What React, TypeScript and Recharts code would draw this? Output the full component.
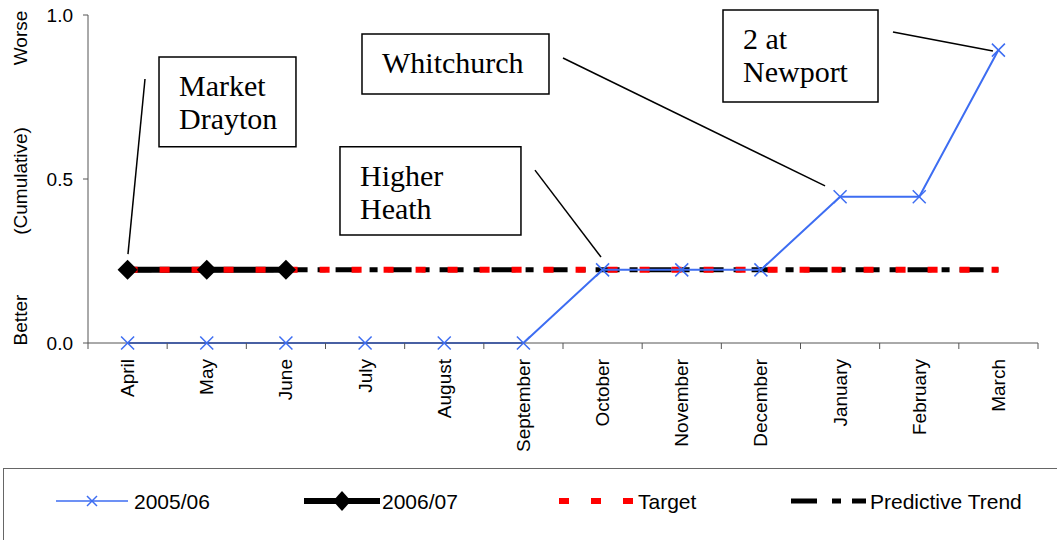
import React from "react";
import {
  ComposedChart,
  Line,
  XAxis,
  YAxis,
  Legend,
  ReferenceArea,
  ReferenceLine,
} from "recharts";

const months = [
  "April", "May", "June", "July", "August", "September",
  "October", "November", "December", "January", "February", "March",
];
const rate0506 = [0, 0, 0, 0, 0, 0, 0.223, 0.223, 0.223, 0.446, 0.446, 0.893];
const rate0607 = [0.223, 0.223, 0.223];
const targetRate = [0.223, 0.223, 0.223, 0.223, 0.223, 0.223, 0.223, 0.223, 0.223, 0.223, 0.223, 0.223];
const trendRate = [0.223, 0.223, 0.223, 0.223, 0.223, 0.223, 0.223, 0.223, 0.223, 0.223, 0.223, 0.223];
const yTicks = [0, 0.5, 1];

const data = months.map((month, i) => ({
  idx: i,
  month,
  s0506: rate0506[i],
  s0607: i < rate0607.length ? rate0607[i] : null,
  target: targetRate[i],
  trend: trendRate[i],
}));

// call-out boxes, in chart (data) units
const notes = [
  { lines: ["Market", "Drayton"], x1: 0.397, x2: 2.127, y1: 0.598, y2: 0.872, from: [0.22, 0.805], to: [0.005, 0.271] },
  { lines: ["Whitchurch"], x1: 2.961, x2: 5.323, y1: 0.759, y2: 0.942, from: [5.5, 0.869], to: [8.81, 0.479] },
  { lines: ["Higher", "Heath"], x1: 2.683, x2: 4.969, y1: 0.329, y2: 0.598, from: [5.146, 0.527], to: [5.98, 0.262] },
  { lines: ["2 at", "Newport"], x1: 7.521, x2: 9.479, y1: 0.735, y2: 1.015, from: [9.668, 0.948], to: [10.931, 0.89] },
];

const SANS = "Liberation Sans, Arial, sans-serif";
const SERIF = "Liberation Serif, Times New Roman, serif";
const BLUE = "#3d6df2";
const STEP = 950 / 12;

const MonthTick = (props: any) => {
  const { x, y, payload } = props;
  const axisY = y - 16;
  const half = STEP / 2;
  return (
    <g>
      <line x1={x - half} x2={x - half} y1={axisY} y2={axisY + 6} stroke="#555" />
      {payload.value === months.length - 1 && (
        <line x1={x + half} x2={x + half} y1={axisY} y2={axisY + 6} stroke="#555" />
      )}
      <text
        x={x}
        y={y}
        transform={`rotate(-90, ${x}, ${y})`}
        textAnchor="end"
        dominantBaseline="central"
        fontSize={19}
        fontFamily={SANS}
        fill="#000"
      >
        {months[payload.value]}
      </text>
    </g>
  );
};

const CrossDot = (props: any) => {
  const { cx, cy } = props;
  if (cx == null || cy == null) return null;
  const r = 6.5;
  return (
    <g stroke={BLUE} strokeWidth={1.5}>
      <line x1={cx - r} y1={cy - r} x2={cx + r} y2={cy + r} />
      <line x1={cx - r} y1={cy + r} x2={cx + r} y2={cy - r} />
    </g>
  );
};

const DiamondDot = (props: any) => {
  const { cx, cy } = props;
  if (cx == null || cy == null) return null;
  const r = 10;
  return (
    <polygon
      points={`${cx},${cy - r} ${cx + r},${cy} ${cx},${cy + r} ${cx - r},${cy}`}
      fill="#000"
    />
  );
};

const YLabel = (props: any) => {
  const vb = props.viewBox;
  const x = vb.x + 21;
  const parts: [string, number][] = [
    ["Worse", 0.07],
    ["(Cumulative)", 0.506],
    ["Better", 0.93],
  ];
  return (
    <g>
      {parts.map(([t, f]) => {
        const y = vb.y + vb.height * f;
        return (
          <text
            key={t}
            x={x}
            y={y}
            transform={`rotate(-90, ${x}, ${y})`}
            textAnchor="middle"
            dominantBaseline="central"
            fontSize={19}
            fontFamily={SANS}
            fill="#000"
          >
            {t}
          </text>
        );
      })}
    </g>
  );
};

const boxText = (lines: string[]) => (props: any) => {
  const vb = props.viewBox;
  return (
    <text fontSize={30} fontFamily={SERIF} fill="#000">
      {lines.map((l, i) => (
        <tspan key={l} x={vb.x + 20} y={vb.y + 39 + i * 33}>
          {l}
        </tspan>
      ))}
    </text>
  );
};

const LegendBox = () => (
  <div
    style={{
      height: 72,
      boxSizing: "border-box",
      borderTop: "1.5px solid #666",
      borderLeft: "1.5px solid #666",
      background: "#fff",
    }}
  >
    <svg width={1054} height={70} style={{ display: "block" }}>
      <g fontSize={21} fontFamily={SANS} fill="#000">
        <line x1={52} x2={124} y1={32} y2={32} stroke={BLUE} strokeWidth={1.5} />
        <g stroke={BLUE} strokeWidth={1.5}>
          <line x1={83} y1={27} x2={93} y2={37} />
          <line x1={83} y1={37} x2={93} y2={27} />
        </g>
        <text x={130} y={32} dominantBaseline="central">2005/06</text>

        <line x1={300} x2={376} y1={32} y2={32} stroke="#000" strokeWidth={6} />
        <polygon points="338,22 347,32 338,42 329,32" fill="#000" />
        <text x={378} y={32} dominantBaseline="central">2006/07</text>

        <line x1={555} x2={630} y1={32} y2={32} stroke="#f00" strokeWidth={6} strokeDasharray="10 22" />
        <text x={634} y={32} dominantBaseline="central">Target</text>

        <line x1={787} x2={862} y1={32} y2={32} stroke="#000" strokeWidth={5} strokeDasharray="26 15 9 11 14" />
        <text x={866} y={32} dominantBaseline="central">Predictive Trend</text>
      </g>
    </svg>
  </div>
);

export default function App() {
  return (
    <div
      style={{
        position: "absolute",
        left: 0,
        top: 0,
        width: 1057,
        height: 540,
        overflow: "hidden",
        background: "#fff",
      }}
    >
      <ComposedChart
        width={1057}
        height={540}
        data={data}
        margin={{ top: 15, right: 19, bottom: 0, left: 0 }}
      >
        <XAxis
          dataKey="idx"
          type="number"
          domain={[-0.5, 11.5]}
          allowDataOverflow
          ticks={months.map((_, i) => i)}
          interval={0}
          height={125}
          tickLine={false}
          tickSize={0}
          tickMargin={16}
          tick={<MonthTick />}
          stroke="#555"
        />
        <YAxis
          domain={[0, 1]}
          ticks={yTicks}
          width={88}
          tickSize={5}
          tickMargin={10}
          tickFormatter={(v: number) => v.toFixed(1)}
          tick={{ fill: "#000", fontSize: 19, fontFamily: SANS }}
          stroke="#555"
          label={{ content: <YLabel /> }}
        />
        <Legend verticalAlign="bottom" content={<LegendBox />} wrapperStyle={{ left: 3, width: 1054, height: 72 }} />

        {notes.map((n) => (
          <ReferenceArea
            key={n.lines.join(" ")}
            x1={n.x1}
            x2={n.x2}
            y1={n.y1}
            y2={n.y2}
            ifOverflow="visible"
            fill="#fff"
            fillOpacity={1}
            stroke="#000"
            strokeWidth={1.5}
            label={{ content: boxText(n.lines) }}
          />
        ))}
        {notes.map((n) => (
          <ReferenceLine
            key={"l" + n.lines.join(" ")}
            segment={[
              { x: n.from[0], y: n.from[1] },
              { x: n.to[0], y: n.to[1] },
            ]}
            ifOverflow="visible"
            stroke="#000"
            strokeWidth={1.5}
          />
        ))}

        <Line
          dataKey="trend"
          name="Predictive Trend"
          stroke="#000"
          strokeWidth={5}
          strokeDasharray="24 10 8 10"
          dot={false}
          isAnimationActive={false}
        />
        <Line
          dataKey="s0607"
          name="2006/07"
          stroke="#000"
          strokeWidth={6}
          dot={<DiamondDot />}
          isAnimationActive={false}
        />
        <Line
          dataKey="target"
          name="Target"
          stroke="#f00"
          strokeWidth={6}
          strokeDasharray="10 22"
          dot={false}
          isAnimationActive={false}
        />
        <Line
          dataKey="s0506"
          name="2005/06"
          stroke={BLUE}
          strokeWidth={2}
          dot={<CrossDot />}
          isAnimationActive={false}
        />
      </ComposedChart>
    </div>
  );
}
